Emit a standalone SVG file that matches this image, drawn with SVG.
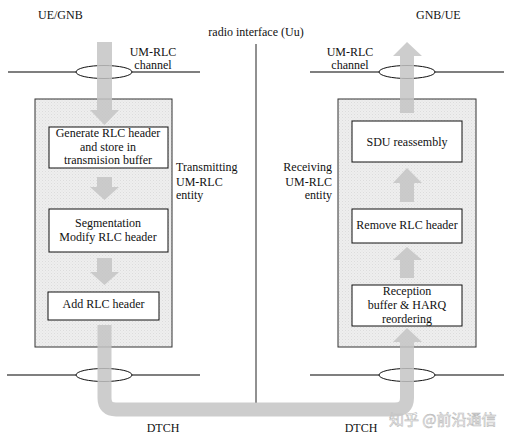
<svg xmlns="http://www.w3.org/2000/svg" width="512" height="442" viewBox="0 0 512 442">
<defs>
<pattern id="dots" width="3" height="3" patternUnits="userSpaceOnUse">
<rect width="3" height="3" fill="#eeeeee"/>
<rect x="0" y="0" width="1" height="1" fill="#dcdcdc"/>
<rect x="1.5" y="1.5" width="1" height="1" fill="#e2e2e2"/>
</pattern>
<style>
.t{font-family:'Liberation Serif','Tinos','DejaVu Serif',serif;font-size:12px;fill:#111}
.mid{text-anchor:middle}
.end{text-anchor:end}
.ent{fill:url(#dots);stroke:#333;stroke-width:1}
.blk{fill:#fff;stroke:#111;stroke-width:1}
.ln{stroke:#555;stroke-width:1.3;fill:none}
.ell{fill:#fff;stroke:#111;stroke-width:1}
.arr{fill:#c4c4c4;fill-opacity:0.85}
.pipe{fill:none;stroke:#c4c4c4;stroke-opacity:0.85;stroke-width:14}
</style>
</defs>
<rect width="512" height="442" fill="#fff"/>

<g id="labels" class="t">
<text x="38" y="19">UE/GNB</text>
<text x="416" y="19">GNB/UE</text>
<text x="256" y="36" class="mid">radio interface (Uu)</text>
<text x="153" y="56" class="mid">UM-RLC</text>
<text x="153" y="69" class="mid">channel</text>
<text x="350" y="56" class="mid">UM-RLC</text>
<text x="350" y="69" class="mid">channel</text>
<text x="163" y="432" class="mid">DTCH</text>
<text x="361" y="432" class="mid">DTCH</text>
<text x="389" y="425" style="font-family:'Noto Sans CJK SC',sans-serif;font-size:15px;fill:#fff;stroke:#bbb;stroke-width:0.6">知乎 @前沿通信</text>
</g>

<g id="interface">
<line x1="256" y1="44" x2="256" y2="403" stroke="#222" stroke-width="1"/>
<line class="ln" x1="8" y1="72" x2="200" y2="72"/>
<line class="ln" x1="310" y1="72" x2="504" y2="72"/>
<line class="ln" x1="7" y1="375" x2="200" y2="375"/>
<line class="ln" x1="310" y1="375" x2="504" y2="375"/>
<ellipse class="ell" cx="104" cy="72" rx="28" ry="6.5"/>
<ellipse class="ell" cx="407" cy="72" rx="28" ry="6.5"/>
<ellipse class="ell" cx="104" cy="375" rx="28" ry="6.5"/>
<ellipse class="ell" cx="407" cy="375" rx="28" ry="6.5"/>
</g>

<g id="tx-entity" class="t">
<rect class="ent" x="35" y="99" width="137" height="248"/>
<text x="176" y="171">Transmitting</text>
<text x="176" y="186">UM-RLC</text>
<text x="176" y="199">entity</text>
</g>
<g id="rx-entity" class="t">
<rect class="ent" x="338" y="99" width="138" height="248"/>
<text x="332" y="171" class="end">Receiving</text>
<text x="332" y="186" class="end">UM-RLC</text>
<text x="332" y="199" class="end">entity</text>
</g>

<g id="gen-header" class="t">
<rect class="blk" x="49" y="127" width="119" height="41"/>
<text x="108" y="137" class="mid">Generate RLC header</text>
<text x="108" y="151" class="mid">and store in</text>
<text x="108" y="164" class="mid">transmision buffer</text>
</g>
<g id="segmentation" class="t">
<rect class="blk" x="49" y="209" width="119" height="43"/>
<text x="108" y="227" class="mid">Segmentation</text>
<text x="108" y="241" class="mid">Modify RLC header</text>
</g>
<g id="add-header" class="t">
<rect class="blk" x="48" y="292" width="111" height="28"/>
<text x="103.5" y="308" class="mid">Add RLC header</text>
</g>
<g id="sdu-reassembly" class="t">
<rect class="blk" x="352" y="121" width="110" height="41"/>
<text x="407" y="146" class="mid">SDU reassembly</text>
</g>
<g id="remove-header" class="t">
<rect class="blk" x="352" y="209" width="110" height="34"/>
<text x="407" y="229" class="mid">Remove RLC header</text>
</g>
<g id="reception" class="t">
<rect class="blk" x="352" y="285" width="110" height="41"/>
<text x="407" y="295" class="mid">Reception</text>
<text x="407" y="309" class="mid">buffer &amp; HARQ</text>
<text x="407" y="323" class="mid">reordering</text>
</g>

<g id="connectors">
<polygon class="arr" points="97,42 112,42 112,110 119,110 104.5,125 90,110 97,110"/>
<polygon class="arr" points="97,177 112,177 112,187 119,187 104.5,200 90,187 97,187"/>
<polygon class="arr" points="97,258 112,258 112,272 119,272 104.5,285 90,272 97,272"/>
<path class="pipe" d="M104.5,325 V398 Q104.5,409.5 116,409.5 H395 Q407,409.5 407,398 V342"/>
<polygon class="arr" points="393,342 407,328 422,342"/>
<polygon class="arr" points="400,278 414,278 414,260 422,260 407,247 393,260 400,260"/>
<polygon class="arr" points="400,202 414,202 414,183 422,183 407,168 393,183 400,183"/>
<polygon class="arr" points="400,113 414,113 414,56 422,56 407,42 393,56 400,56"/>
</g>
</svg>
